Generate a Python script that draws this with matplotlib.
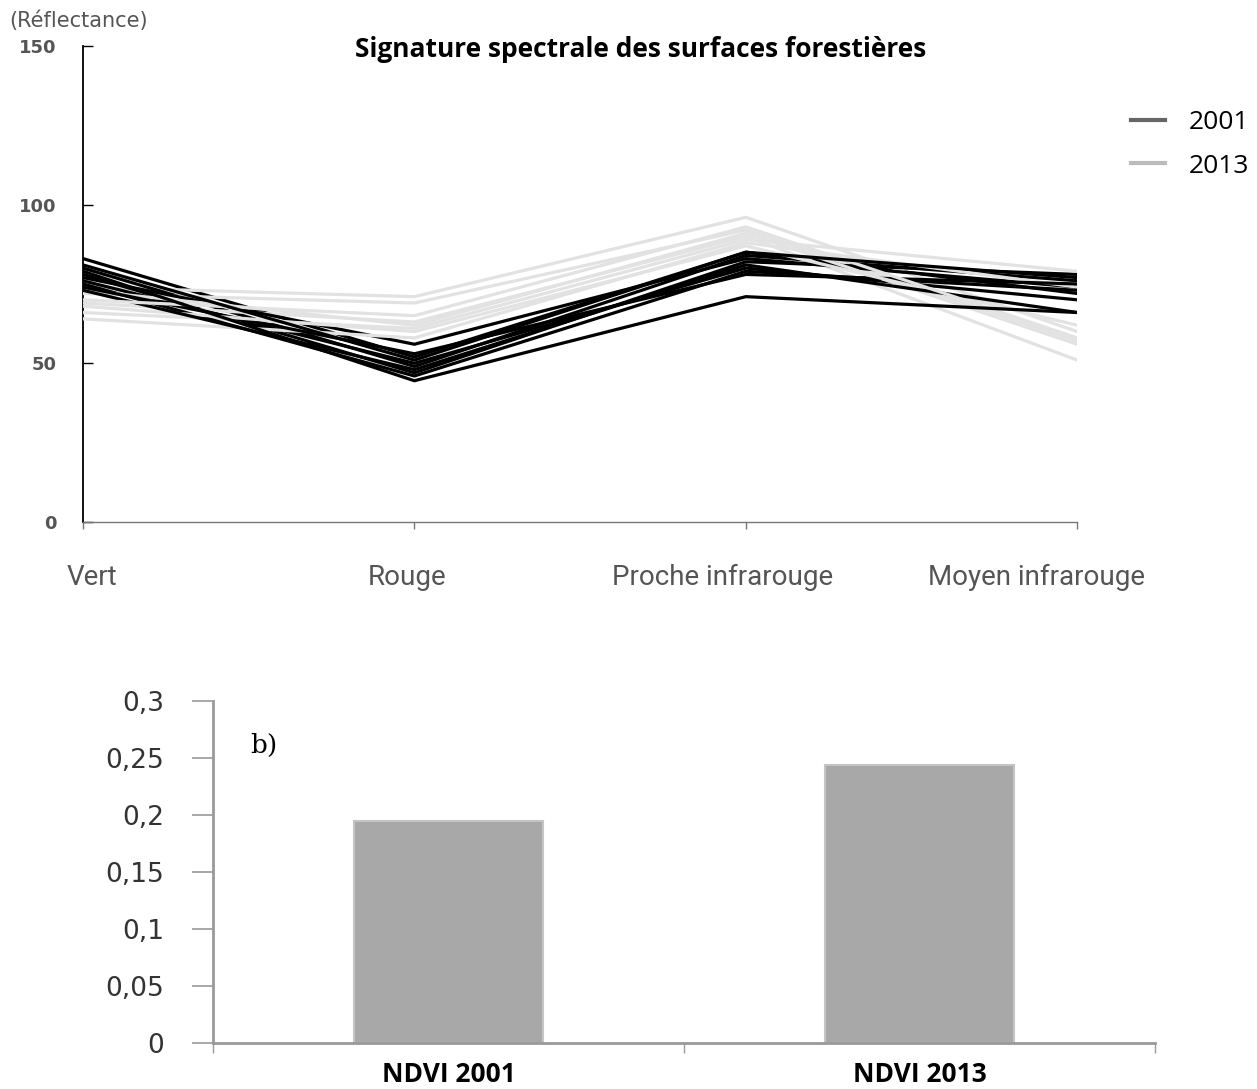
import matplotlib.pyplot as plt
from matplotlib.ticker import FuncFormatter

plt.rcParams["font.family"] = ["DejaVu Sans"]

# --- Données ---
bandes = ["Vert", "Rouge", "Proche infrarouge", "Moyen infrarouge"]

# signatures 2001 (noir) : Vert, Rouge, PIR, MIR
sig_2001 = [
    [83, 52, 85, 72],
    [80, 49, 84, 76],
    [78, 47, 82, 78],
    [77, 56, 83, 74],
    [76, 50, 80, 70],
    [75, 46, 79, 73],
    [74, 53, 78, 75],
    [73, 48, 81, 66],
    [79, 44.5, 71, 66],
    [81, 51, 85, 77],
]

# signatures 2013 (gris clair)
sig_2013 = [
    [74, 71, 96, 60],
    [72, 69, 92, 57],
    [69, 63, 90, 51],
    [66, 61, 89, 79],
    [64, 58, 88, 74],
    [73, 62, 91, 56],
    [68, 60, 87, 62],
    [70, 65, 93, 58],
]

ndvi_labels = ["NDVI 2001", "NDVI 2013"]
ndvi_values = [0.195, 0.244]

# --- Figure ---
fig = plt.figure(figsize=(12.57, 10.89), dpi=100)

# 1. Signature spectrale
ax1 = fig.add_axes([0.066, 0.5207, 0.791, 0.4371])
x = range(len(bandes))
n = max(len(sig_2001), len(sig_2013))
for i in range(n):
    if i < len(sig_2001):
        ax1.plot(x, sig_2001[i], color="black", lw=2.3, zorder=3)
    if i < len(sig_2013):
        ax1.plot(x, sig_2013[i], color="#e2e2e2", lw=2.3, zorder=3)

ax1.set_xlim(0, 3)
ax1.set_ylim(0, 150)
ax1.set_yticks([0, 50, 100, 150])
ax1.tick_params(axis="y", direction="in", length=7, width=1, pad=19,
                labelsize=13, labelcolor="#555555")
for lab in ax1.get_yticklabels():
    lab.set_fontweight("bold")
ax1.set_xticks(list(x))
ax1.set_xticklabels([])
ax1.tick_params(axis="x", direction="out", length=5, width=1, color="#777777")
ax1.spines["top"].set_visible(False)
ax1.spines["right"].set_visible(False)
ax1.spines["left"].set_linewidth(1.3)
ax1.spines["bottom"].set_linewidth(1)
ax1.spines["bottom"].set_color("#777777")

# étiquettes des bandes (légèrement décalées comme dans l'original)
decal = [0.027, -0.022, -0.071, -0.124]
for i, b in enumerate(bandes):
    ax1.text(i + decal[i], -17.5, b, ha="center", va="center",
             fontsize=20, color="#555555",
             family=["Roboto", "DejaVu Sans"])

fig.text(0.007, 0.981, "(Réflectance)", fontsize=15, color="#555555",
         ha="left", va="center")
fig.text(0.51, 0.955, "Signature spectrale des surfaces forestières",
         ha="center", va="center", fontsize=19, fontweight="bold",
         family=["Open Sans", "DejaVu Sans"])

# légende
leg = ax1.legend(handles=[plt.Line2D([], [], color="#666666", lw=3),
                          plt.Line2D([], [], color="#bbbbbb", lw=3)],
                 labels=["2001", "2013"], loc="upper left",
                 bbox_to_anchor=(1.03, 0.915), frameon=False,
                 handlelength=1.3, handletextpad=0.9, labelspacing=0.7,
                 prop={"family": "Open Sans", "size": 19})

# 2. NDVI
ax2 = fig.add_axes([0.1695, 0.0422, 0.7495, 0.3141])
ax2.bar(range(len(ndvi_values)), ndvi_values, width=0.40, color="#a8a8a8",
        edgecolor="#c4c4c4", linewidth=1.5)
ax2.set_xlim(-0.5, 1.5)
ax2.set_ylim(0, 0.3)
ax2.set_yticks([0, 0.05, 0.1, 0.15, 0.2, 0.25, 0.3])
ax2.yaxis.set_major_formatter(
    FuncFormatter(lambda v, p: ("%g" % round(v, 2)).replace(".", ",")))
ax2.tick_params(axis="y", direction="out", length=15, width=1.2,
                color="#999999", pad=20, labelsize=19, labelcolor="#333333")
ax2.set_xticks(range(len(ndvi_labels)))
ax2.set_xticklabels(ndvi_labels, fontsize=19, fontweight="bold",
                    family=["Open Sans", "DejaVu Sans"])
ax2.tick_params(axis="x", which="major", length=0, pad=13)
ax2.set_xticks([-0.5, 0.5, 1.5], minor=True)
ax2.tick_params(axis="x", which="minor", length=7, width=1, color="#999999")
ax2.spines["top"].set_visible(False)
ax2.spines["right"].set_visible(False)
for s in ["left", "bottom"]:
    ax2.spines[s].set_color("#999999")
    ax2.spines[s].set_linewidth(2)

ax2.text(0.04, 0.87, "b)", transform=ax2.transAxes, fontsize=19,
         family="DejaVu Serif", ha="left", va="center")

fig.savefig("out.png", dpi=100)
